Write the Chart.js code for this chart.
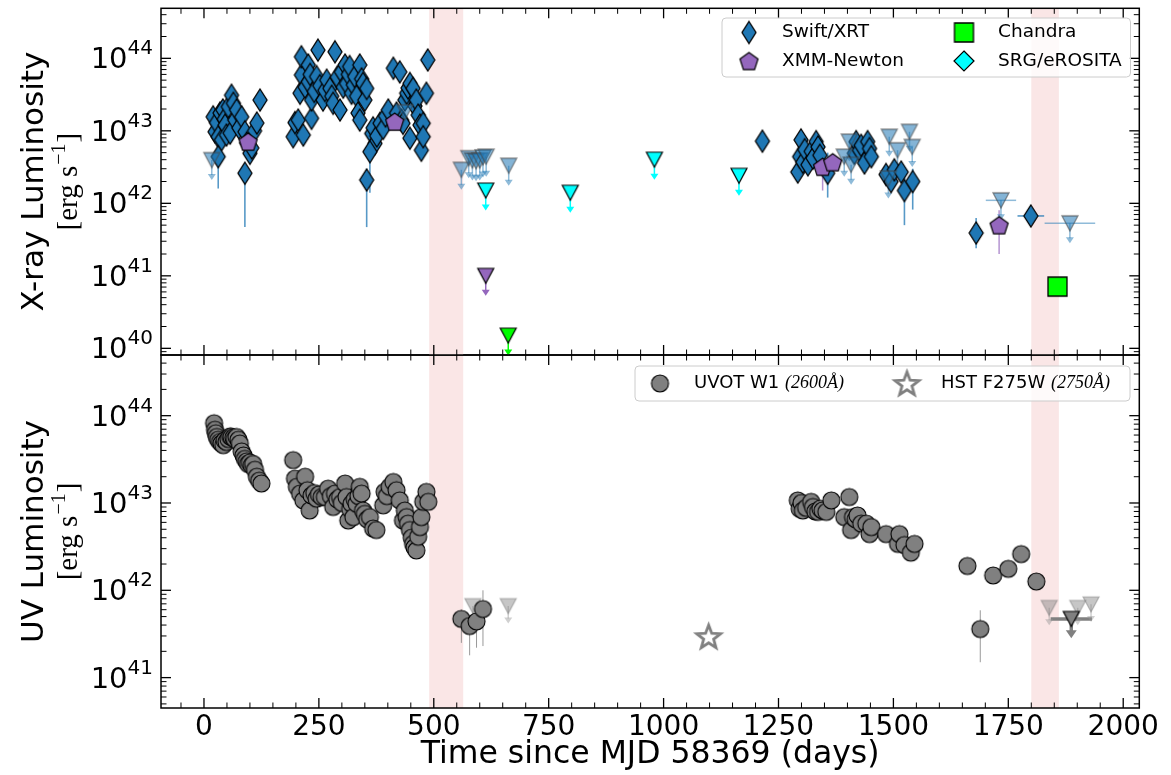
<!DOCTYPE html>
<html>
<head>
<meta charset="utf-8">
<script src="https://cdn.jsdelivr.net/npm/chart.js@4.4.1/dist/chart.umd.min.js"></script>
<style>
  html, body { margin: 0; padding: 0; background: #fff; }
  #wrap { position: relative; width: 1171px; height: 775px; }
  #wrap canvas { position: absolute; left: 0; top: 0; }
</style>
</head>
<body>
<div id="wrap">
  <canvas id="uvChart" width="1171" height="775"></canvas>
  <canvas id="xrayChart" width="1171" height="775"></canvas>
</div>
<script>
// ===============================
// DATA (days since MJD 58369, luminosity in erg/s)
// ===============================

// Swift/XRT detections
const swiftDays = [20, 24, 27, 31, 35, 38, 41, 44, 46, 49, 53, 57, 60, 64, 67, 71, 76, 82, 89, 93, 100, 104, 110, 115, 122,
  194, 198, 205, 209, 212, 212, 216, 220, 227, 227, 231, 234, 234, 240, 245, 248, 252, 259, 263, 267, 274, 278, 281, 285,
  290, 296, 299, 303, 307, 310, 314, 317, 321, 325, 328, 332, 335, 339, 339, 343, 346, 350, 354, 365, 368, 372, 376, 383,
  390, 395, 401, 412, 419, 426, 430, 433, 437, 441, 444, 448, 448, 455, 459, 462, 466, 470, 473, 477, 477, 484, 487,
  1215,
  1292, 1296, 1299, 1303, 1307, 1314, 1321, 1325, 1332, 1336, 1340, 1415, 1419, 1426, 1430, 1437, 1444, 1448, 1452,
  1484, 1495, 1502, 1517];
const swiftLum = [1.56e43, 9.7e42, 1.3e43, 8.3e42, 1.76e43, 7.5e42, 1.94e43, 1.45e43, 1.2e43, 8.75e42, 2.15e43, 9.3e42, 3.1e43,
  2.4e43, 1.41e43, 1.94e43, 1.1e43, 1.56e43, 9.7e42, 6.8e42, 4.9e42, 5.8e42, 1.0e43, 1.28e43, 2.66e43,
  8.3e42, 1.3e43, 1.41e43, 3.3e43, 5.9e43, 1.05e44, 8.75e42, 4.0e43, 8.1e43, 4.75e43, 6.0e43, 1.49e43, 2.66e43, 3.5e43,
  5.6e43, 1.3e44, 4.2e43, 2.66e43, 3.6e43, 5.0e43, 3.85e43, 3.0e43, 2.4e43, 1.23e44,
  5.5e43, 1.94e43, 6.5e43, 4.0e43, 8.1e43, 4.5e43, 6.0e43, 7.7e43, 3.3e43, 4.3e43, 5.6e43, 3.0e43, 1.76e43, 8.1e43, 1.41e43,
  5.2e43, 4.5e43, 2.66e43, 3.85e43, 9.2e42, 1.1e43, 6.7e42, 8.5e42, 1.27e43,
  1.08e43, 1.6e43, 1.94e43, 7.3e43, 1.76e43, 6.5e43, 1.4e43, 1.27e43, 2.66e43, 3.3e43, 3.9e43, 4.5e43, 7.9e42, 3.85e43,
  2.2e43, 2.66e43, 1.65e43, 1.2e43, 5.4e42, 1.27e43, 8.3e42, 3.3e43, 9.5e43,
  7.2e42,
  2.7e42, 4.4e42, 7.5e42, 3.7e42, 5.5e42, 3.4e42, 5.2e42, 4.2e42, 7.1e42, 6.0e42, 4.6e42, 4.9e42, 7.1e42, 5.4e42, 6.3e42,
  3.6e42, 7.1e42, 5.7e42, 4.4e42,
  2.5e42, 2.0e42, 2.9e42, 2.7e42];

// Swift/XRT detections whose error bars show outside the marker
const swiftBarDays = [31, 89, 354, 361, 1357, 1524, 1542, 1680, 1799];
const swiftBarLum = [4.4e42, 2.6e42, 2.1e42, 5.15e42, 2.6e42, 1.5e42, 2.0e42, 3.9e41, 6.7e41];
const swiftBarLo = [1.6e42, 4.7e41, 4.7e41, 1.4e42, 1.2e42, 5.0e41, 8.2e41, 2.4e41, 5.6e41];
const swiftBarHi = [5.5e42, 3.5e42, 3.0e42, 6.5e42, 5.0e42, 2.7e42, 3.0e42, 6.3e41, 8.0e41];
const swiftBarDx = [0, 0, 0, 0, 0, 0, 0, 8, 29];

// Swift/XRT upper limits
const swiftUlDays = [17, 437, 560, 576, 584, 592, 600, 607, 614, 663, 1393, 1404, 1408, 1489, 1491, 1509, 1535, 1541, 1734, 1884];
const swiftUlLum = [3.95e42, 1.8e43, 2.9e42, 4.2e42, 3.9e42, 3.8e42, 3.9e42, 4.3e42, 4.4e42, 3.3e42,
  4.4e42, 7.1e42, 3.4e42, 2.2e42, 8.3e42, 5.4e42, 9.7e42, 6.0e42, 1.1e42, 5.3e41];
const swiftUlDx = [0, 0, 0, 0, 0, 0, 0, 0, 0, 0, 0, 0, 0, 0, 0, 0, 0, 0, 33, 55];

// XMM-Newton
const xmmDays = [96, 415, 1346, 1368, 1730];
const xmmLum = [7.1e42, 1.34e43, 3.2e42, 3.7e42, 5.0e41];
const xmmLo = [null, null, 1.5e42, null, 2.0e41];
const xmmHi = [null, null, 6.0e42, null, 8.0e41];
const xmmUlDays = [613];
const xmmUlLum = [1.0e41];

// Chandra
const chandraDays = [1857];
const chandraLum = [7.1e40];
const chandraUlDays = [662];
const chandraUlLum = [1.5e40];

// SRG/eROSITA upper limits
const eroUlDays = [613, 797, 980, 1164];
const eroUlLum = [1.5e42, 1.4e42, 4.0e42, 2.4e42];

// UVOT W1 detections
const uvotDays = [22, 24, 26, 28, 31, 35, 38, 42, 45, 49, 53, 57, 60, 64, 67, 71, 75, 78, 82, 86, 89, 93, 96, 100, 104, 107,
  111, 115, 120, 125,
  194, 198, 202, 209, 216, 220, 225, 230, 234, 240, 245, 250, 256, 263, 270, 276, 281, 285, 290, 296, 300, 307, 310, 314,
  318, 321, 325, 328, 332, 336, 339, 343, 346, 350, 355, 361, 368, 375, 390, 393, 398, 404, 412, 419, 426, 433, 437, 441,
  444, 448, 452, 455, 458, 462, 466, 470, 473, 477, 484, 488,
  1292, 1296, 1300, 1303, 1310, 1321, 1325, 1330, 1336, 1341, 1346, 1354, 1365, 1393, 1404, 1408, 1412, 1418, 1422, 1430,
  1441, 1448, 1452, 1484, 1510, 1513, 1524, 1538, 1546,
  1661, 1717, 1750, 1778, 1811];
const uvotLum = [8.2e43, 6.9e43, 6.3e43, 5.7e43, 5.3e43, 5.0e43, 4.8e43, 4.6e43, 5.2e43, 5.0e43, 5.4e43, 5.8e43, 5.7e43,
  5.6e43, 5.4e43, 5.7e43, 5.3e43, 4.8e43, 3.9e43, 3.5e43, 3.2e43, 3.0e43, 2.8e43, 2.9e43, 2.7e43, 2.8e43, 2.4e43, 2.0e43,
  1.8e43, 1.67e43,
  3.1e43, 1.9e43, 1.53e43, 1.28e43, 1.07e43, 2.0e43, 1.4e43, 8.2e42, 1.22e43, 1.3e43, 1.12e43, 1.25e43, 1.17e43, 1.17e43,
  1.46e43, 1.2e43, 9.0e42, 1.28e43, 1.1e43, 1.17e43, 1.0e43, 1.67e43, 1.17e43, 6.3e42, 8.5e42, 9.8e42, 6.9e42, 1.1e43,
  9.8e42, 1.2e43, 1.53e43, 1.28e43, 8.2e42, 7.5e42, 6.5e42, 6.9e42, 5.1e42, 4.9e42, 9.4e42, 1.34e43, 1.2e43, 1.53e43,
  1.74e43, 1.4e43, 1.07e43, 6.3e42, 8.2e42, 6.9e42, 5.8e42, 4.9e42, 4.0e42, 3.4e42, 3.1e42, 2.86e42, 4.1e42, 5.3e42,
  6.9e42, 1.03e43, 1.34e43, 1.03e43,
  1.07e43, 8.6e42, 1.0e43, 8.2e42, 8.8e42, 1.03e43, 9.0e42, 8.0e42, 7.9e42, 8.6e42, 8.2e42, 7.9e42, 1.07e43, 6.9e42,
  1.17e43, 4.9e42, 6.9e42, 6.5e42, 7.2e42, 5.8e42, 5.8e42, 4.4e42, 5.3e42, 4.4e42, 3.4e42, 4.4e42, 3.3e42, 2.7e42, 3.4e42,
  1.9e42, 1.48e42, 1.76e42, 2.6e42, 1.26e42];

// UVOT W1 detections with visible error bars
const uvotBarDays = [560, 578, 593, 607, 1689];
const uvotBarLum = [4.7e41, 3.9e41, 4.4e41, 6.1e41, 3.6e41];
const uvotBarLo = [2.5e41, 1.8e41, 2.2e41, 2.3e41, 1.5e41];
const uvotBarHi = [6.0e41, 5.0e41, 5.5e41, 1.0e42, 5.9e41];

// UVOT W1 upper limits (single and stacked)
const uvotUlDays = [585, 662, 1839, 1901, 1930];
const uvotUlLum = [6.6e41, 6.6e41, 6.3e41, 6.3e41, 6.9e41];
const uvotStackDays = [1887];
const uvotStackLum = [4.7e41];
const uvotStackDx = [45];

// HST F275W
const hstDays = [1098];
const hstLum = [2.95e41];

// windows without observations
const gapWindows = [[490, 564], [1800, 1860]];

// axes
const xMin = -93.5, xMax = 2035;
const xMajor = [0, 250, 500, 750, 1000, 1250, 1500, 1750, 2000];
const xMinorStep = 50;
const xrayDecades = [40, 41, 42, 43, 44];
const uvDecades = [41, 42, 43, 44];

// ===============================
// MARKERS
// ===============================

const SWIFT = '#1f77b4', XMM = '#9467bd', CHANDRA = '#00ff00', ERO = '#00ffff', UVOT = '#808080';
const SANS = '"DejaVu Sans", sans-serif';
const SERIF = '"Liberation Serif", "DejaVu Serif", serif';

function shapePath(g, shape, w, h) {
  const rx = w / 2, ry = h / 2;
  g.beginPath();
  if (shape === 'diamond') {
    g.moveTo(0, -ry); g.lineTo(rx, 0); g.lineTo(0, ry); g.lineTo(-rx, 0);
  } else if (shape === 'square') {
    g.rect(-rx, -ry, w, h);
    return;
  } else if (shape === 'tri') {
    g.moveTo(-rx, -ry); g.lineTo(rx, -ry); g.lineTo(0, ry);
  } else if (shape === 'circle') {
    g.arc(0, 0, rx, 0, 2 * Math.PI);
    return;
  } else if (shape === 'pentagon') {
    for (let k = 0; k < 5; k++) {
      const a = -Math.PI / 2 + k * 2 * Math.PI / 5;
      g.lineTo(rx * Math.cos(a), ry * Math.sin(a) + ry * 0.1);
    }
  } else if (shape === 'star') {
    for (let k = 0; k < 10; k++) {
      const a = -Math.PI / 2 + k * Math.PI / 5;
      const r = k % 2 ? 0.42 : 1;
      g.lineTo(rx * r * Math.cos(a), ry * r * Math.sin(a) + ry * 0.08);
    }
  }
  g.closePath();
}

function marker(shape, w, h, fill, edge, lw) {
  const pad = Math.ceil(lw) + 2;
  const c = document.createElement('canvas');
  c.width = Math.ceil(w) + 2 * pad;
  c.height = Math.ceil(h) + 2 * pad;
  const g = c.getContext('2d');
  g.translate(c.width / 2, c.height / 2);
  shapePath(g, shape, w, h);
  if (fill) { g.fillStyle = fill; g.fill(); }
  if (edge) { g.lineWidth = lw; g.strokeStyle = edge; g.lineJoin = 'miter'; g.stroke(); }
  return c;
}

const mk = {
  swift: marker('diamond', 14, 22, SWIFT, '#000', 1.3),
  swiftUl: marker('tri', 16, 15, 'rgba(31,119,180,0.55)', 'rgba(70,70,70,0.6)', 1.3),
  xmm: marker('pentagon', 19, 19, XMM, '#000', 1.2),
  xmmUl: marker('tri', 16, 15, XMM, '#000', 1.2),
  chandra: marker('square', 19, 19, CHANDRA, '#000', 1.3),
  chandraUl: marker('tri', 16, 15, CHANDRA, '#000', 1.2),
  eroUl: marker('tri', 16, 15, ERO, '#000', 1.2),
  eroLegend: marker('diamond', 20, 20, ERO, '#000', 1.2),
  uvot: marker('circle', 17, 17, UVOT, '#000', 1.1),
  uvotUl: marker('tri', 16, 15, 'rgba(128,128,128,0.45)', 'rgba(120,120,120,0.5)', 1.2),
  uvotStack: marker('tri', 16, 15, UVOT, '#000', 1.2),
  hst: marker('star', 25, 25, '#fff', UVOT, 2.8)
};

// ===============================
// DATASETS
// ===============================

function pts(days, lum) {
  return days.map((d, i) => ({ x: d, y: lum[i] }));
}

function series(label, days, lum, style, order, bars) {
  return { label, data: pts(days, lum), pointStyle: style, pointRadius: 6, order, bars };
}

const xrayData = [
  series('Chandra', chandraDays, chandraLum, mk.chandra, 0),
  series('Chandra UL', chandraUlDays, chandraUlLum, mk.chandraUl, 1,
    { days: chandraUlDays, lum: chandraUlLum, arrow: 0.53, color: CHANDRA, width: 1.5, head: [8, 6] }),
  series('XMM-Newton', xmmDays, xmmLum, mk.xmm, 2,
    { days: xmmDays, lum: xmmLum, lo: xmmLo, hi: xmmHi, color: 'rgba(148,103,189,0.7)', width: 1.5 }),
  series('XMM-Newton UL', xmmUlDays, xmmUlLum, mk.xmmUl, 3,
    { days: xmmUlDays, lum: xmmUlLum, arrow: 0.53, color: XMM, width: 1.5, head: [8, 6] }),
  series('SRG/eROSITA', eroUlDays, eroUlLum, mk.eroUl, 4,
    { days: eroUlDays, lum: eroUlLum, arrow: 0.53, color: ERO, width: 1.5, head: [8, 6] }),
  series('Swift/XRT UL', swiftUlDays, swiftUlLum, mk.swiftUl, 5,
    { days: swiftUlDays, lum: swiftUlLum, dx: swiftUlDx, arrow: 0.53, color: 'rgba(31,119,180,0.5)', width: 1.5, head: [8, 6] }),
  series('Swift/XRT', swiftDays.concat(swiftBarDays), swiftLum.concat(swiftBarLum), mk.swift, 6,
    { days: swiftBarDays, lum: swiftBarLum, lo: swiftBarLo, hi: swiftBarHi, dx: swiftBarDx, color: 'rgba(31,119,180,0.75)', width: 1.6 })
];

const uvData = [
  series('HST F275W', hstDays, hstLum, mk.hst, 0),
  series('UVOT W1 stacked UL', uvotStackDays, uvotStackLum, mk.uvotStack, 1,
    { days: uvotStackDays, lum: uvotStackLum, dx: uvotStackDx, arrow: 0.6, color: UVOT, width: 3.5, head: [11, 8] }),
  series('UVOT W1', uvotDays.concat(uvotBarDays), uvotLum.concat(uvotBarLum), mk.uvot, 2,
    { days: uvotBarDays, lum: uvotBarLum, lo: uvotBarLo, hi: uvotBarHi, color: 'rgba(128,128,128,0.8)', width: 1 }),
  series('UVOT W1 UL', uvotUlDays, uvotUlLum, mk.uvotUl, 3,
    { days: uvotUlDays, lum: uvotUlLum, arrow: 0.63, color: 'rgba(150,150,150,0.45)', width: 1.5, head: [8, 6] })
];

// ===============================
// DRAWING HELPERS
// ===============================

function line(ctx, x1, y1, x2, y2) {
  ctx.beginPath(); ctx.moveTo(x1, y1); ctx.lineTo(x2, y2); ctx.stroke();
}

function drawBars(chart) {
  const { ctx, scales: { x, y } } = chart;
  chart.data.datasets.forEach(ds => {
    const b = ds.bars;
    if (!b) return;
    ctx.strokeStyle = b.color;
    ctx.fillStyle = b.color;
    ctx.lineWidth = b.width;
    b.days.forEach((d, i) => {
      const px = x.getPixelForValue(d), py = y.getPixelForValue(b.lum[i]);
      if (b.lo && b.lo[i] != null) line(ctx, px, y.getPixelForValue(b.lo[i]), px, y.getPixelForValue(b.hi[i]));
      if (b.dx && b.dx[i]) line(ctx, x.getPixelForValue(d - b.dx[i]), py, x.getPixelForValue(d + b.dx[i]), py);
      if (b.arrow) {
        const pe = y.getPixelForValue(b.lum[i] * b.arrow);
        const [hw, hh] = b.head;
        line(ctx, px, py, px, pe - hh + 1);
        ctx.beginPath();
        ctx.moveTo(px - hw / 2, pe - hh); ctx.lineTo(px + hw / 2, pe - hh); ctx.lineTo(px, pe);
        ctx.closePath(); ctx.fill();
      }
    });
  });
}

function drawFrame(chart, decades) {
  const { ctx, chartArea: a, scales: { x, y } } = chart;
  ctx.strokeStyle = '#000';
  // x ticks, inward on top and bottom
  for (let d = Math.ceil(xMin / xMinorStep) * xMinorStep; d <= xMax; d += xMinorStep) {
    const px = x.getPixelForValue(d);
    const major = xMajor.includes(d);
    const len = major ? 10 : 5.5;
    ctx.lineWidth = major ? 1.3 : 1;
    line(ctx, px, a.top, px, a.top + len);
    line(ctx, px, a.bottom, px, a.bottom - len);
  }
  // y ticks, inward on left and right
  const lo = Math.floor(Math.log10(y.min)), hi = Math.ceil(Math.log10(y.max));
  for (let e = lo; e <= hi; e++) {
    for (let m = 1; m <= 9; m++) {
      const v = m * Math.pow(10, e);
      if (v < y.min || v > y.max) continue;
      const py = y.getPixelForValue(v);
      const len = m === 1 ? 10 : 5.5;
      ctx.lineWidth = m === 1 ? 1.3 : 1;
      line(ctx, a.left, py, a.left + len, py);
      line(ctx, a.right, py, a.right - len, py);
    }
  }
  ctx.lineWidth = 1.5;
  ctx.strokeRect(a.left, a.top, a.right - a.left, a.bottom - a.top);

  // y tick labels 10^n
  ctx.fillStyle = '#000';
  ctx.textAlign = 'left';
  ctx.textBaseline = 'alphabetic';
  decades.forEach(e => {
    const py = y.getPixelForValue(Math.pow(10, e));
    ctx.font = '20px ' + SANS;
    const ws = ctx.measureText(String(e)).width;
    ctx.font = '29px ' + SANS;
    const wb = ctx.measureText('10').width;
    const right = a.left - 8;
    ctx.fillText('10', right - ws - wb, py + 10);
    ctx.font = '20px ' + SANS;
    ctx.fillText(String(e), right - ws, py - 4);
  });
}

function drawYTitle(ctx, name, cy) {
  ctx.save();
  ctx.fillStyle = '#000';
  ctx.translate(35, cy);
  ctx.rotate(-Math.PI / 2);
  ctx.textAlign = 'center';
  ctx.textBaseline = 'middle';
  ctx.font = '31px ' + SANS;
  ctx.fillText(name, 0, 0);
  ctx.restore();

  ctx.save();
  ctx.fillStyle = '#000';
  ctx.translate(68, cy);
  ctx.rotate(-Math.PI / 2);
  ctx.textAlign = 'left';
  ctx.textBaseline = 'alphabetic';
  const f1 = '29px ' + SERIF, f2 = '20px ' + SERIF;
  ctx.font = f1;
  const wa = ctx.measureText('[erg s').width, wc = ctx.measureText(']').width;
  ctx.font = f2;
  const wb = ctx.measureText('\u22121').width;
  const x0 = -(wa + wb + wc + 2) / 2;
  ctx.font = f1; ctx.fillText('[erg s', x0, 9);
  ctx.font = f2; ctx.fillText('\u22121', x0 + wa + 1, -3);
  ctx.font = f1; ctx.fillText(']', x0 + wa + wb + 2, 9);
  ctx.restore();
}

function drawLegend(ctx, box, items) {
  ctx.save();
  ctx.beginPath();
  ctx.roundRect(box.x, box.y, box.w, box.h, 4);
  ctx.fillStyle = 'rgba(255,255,255,0.8)';
  ctx.fill();
  ctx.strokeStyle = '#cccccc';
  ctx.lineWidth = 1;
  ctx.stroke();
  ctx.fillStyle = '#000';
  ctx.textAlign = 'left';
  ctx.textBaseline = 'middle';
  items.forEach(it => {
    ctx.drawImage(it.img, it.mx - it.img.width / 2, it.my - it.img.height / 2);
    let tx = it.tx;
    it.parts.forEach(([t, f]) => {
      ctx.font = f;
      ctx.fillText(t, tx, it.my);
      tx += ctx.measureText(t).width;
    });
  });
  ctx.restore();
}

// ===============================
// PLUGIN
// ===============================

const panelPlugin = {
  id: 'panel',
  beforeDatasetsDraw(chart) {
    const { ctx, chartArea: a, scales: { x } } = chart;
    ctx.save();
    ctx.fillStyle = 'rgb(250,230,230)';
    gapWindows.forEach(([s, e]) => {
      const l = x.getPixelForValue(s), r = x.getPixelForValue(e);
      ctx.fillRect(l, a.top, r - l, a.bottom - a.top);
    });
    drawBars(chart);
    ctx.restore();
  },
  afterDraw(chart) {
    const { ctx, chartArea: a, scales: { x } } = chart;
    const panel = chart.canvas.id;
    ctx.save();
    if (panel === 'xrayChart') {
      drawFrame(chart, xrayDecades);
      drawYTitle(ctx, 'X-ray Luminosity', (a.top + a.bottom) / 2);
      const sans = '18.5px ' + SANS;
      drawLegend(ctx, { x: 722, y: 18, w: 408.5, h: 59 }, [
        { img: mk.swift, mx: 749, my: 32.5, tx: 782, parts: [['Swift/XRT', sans]] },
        { img: mk.chandra, mx: 964, my: 32.5, tx: 998, parts: [['Chandra', sans]] },
        { img: mk.xmm, mx: 749, my: 61, tx: 782, parts: [['XMM-Newton', sans]] },
        { img: mk.eroLegend, mx: 964, my: 61, tx: 998, parts: [['SRG/eROSITA', sans]] }
      ]);
    } else {
      drawFrame(chart, uvDecades);
      drawYTitle(ctx, 'UV Luminosity', (a.top + a.bottom) / 2);
      // x tick labels and title
      ctx.fillStyle = '#000';
      ctx.textAlign = 'center';
      ctx.textBaseline = 'alphabetic';
      ctx.font = '28px ' + SANS;
      xMajor.forEach(d => ctx.fillText(String(d), x.getPixelForValue(d), a.bottom + 27));
      ctx.font = '31.5px ' + SANS;
      ctx.fillText('Time since MJD 58369 (days)', (a.left + a.right) / 2, a.bottom + 55);
      const sans = '18px ' + SANS, ital = 'italic 18px ' + SERIF;
      drawLegend(ctx, { x: 635, y: 366, w: 495, h: 35 }, [
        { img: mk.uvot, mx: 660, my: 383.5, tx: 694, parts: [['UVOT W1 ', sans], ['(2600\u00c5)', ital]] },
        { img: mk.hst, mx: 907, my: 383.5, tx: 941, parts: [['HST F275W ', sans], ['(2750\u00c5)', ital]] }
      ]);
    }
    ctx.restore();
  }
};

// ===============================
// CHARTS
// ===============================

function makeChart(id, datasets, yMin, yMax, padding) {
  return new Chart(document.getElementById(id), {
    type: 'scatter',
    data: { datasets },
    options: {
      responsive: false,
      animation: false,
      events: [],
      layout: { padding },
      plugins: { legend: { display: false }, tooltip: { enabled: false } },
      scales: {
        x: { type: 'linear', min: xMin, max: xMax, display: false },
        y: { type: 'logarithmic', min: yMin, max: yMax, display: false }
      }
    },
    plugins: [panelPlugin]
  });
}

makeChart('uvChart', uvData, Math.pow(10, 40.652), Math.pow(10, 44.695),
  { left: 161, top: 355, right: 31.7, bottom: 67 });
makeChart('xrayChart', xrayData, Math.pow(10, 39.908), Math.pow(10, 44.69),
  { left: 161, top: 8.3, right: 31.7, bottom: 420 });
</script>
</body>
</html>
